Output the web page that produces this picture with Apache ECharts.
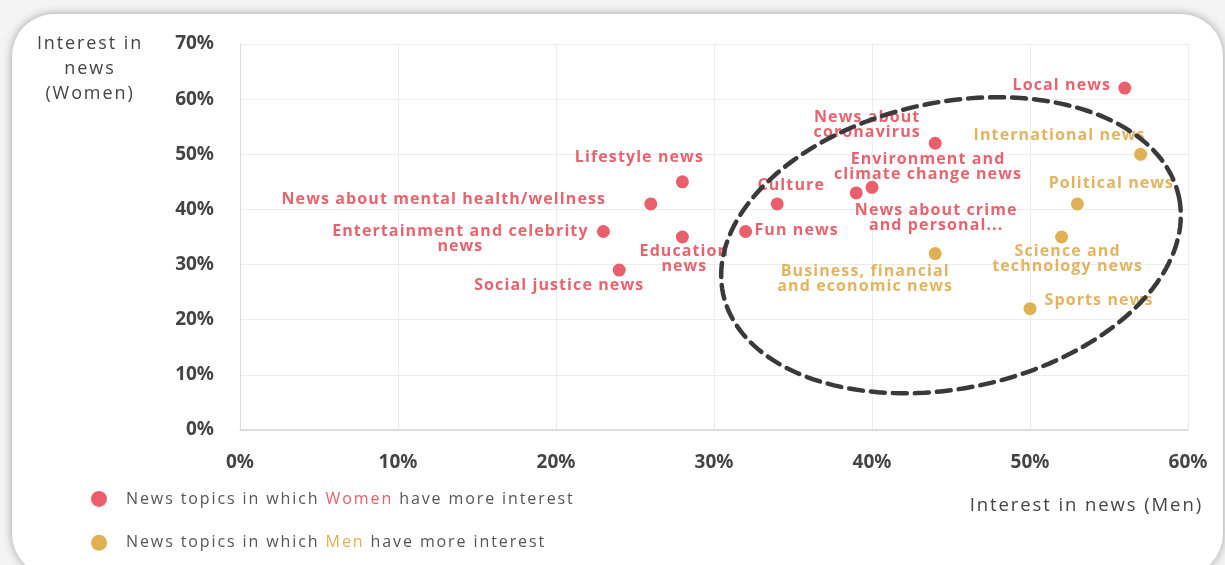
<!DOCTYPE html>
<html>
<head>
<meta charset="utf-8">
<script src="https://cdn.jsdelivr.net/npm/echarts@6/dist/echarts.min.js"></script>
<style>
  html, body { margin: 0; padding: 0; width: 1225px; height: 565px; overflow: hidden; background: #f4f4f4; }
  #card { position: absolute; left: 12px; top: 14px; width: 1211px; height: 562px; background: #fff;
          border-radius: 42px; box-shadow: 0 0 10px rgba(0,0,0,0.35); }
  #chart { position: absolute; left: 0; top: 0; width: 1225px; height: 565px; }
</style>
</head>
<body>
<div id="card"></div>
<div id="chart"></div>
<script>
// ---- Data (values in %) ----
const womenTopics = ['Local news', 'News about coronavirus', 'Lifestyle news', 'Environment and climate change news',
  'News about crime and personal...', 'Culture', 'News about mental health/wellness', 'Entertainment and celebrity news',
  'Education news', 'Fun news', 'Social justice news'];
const womenTopicsMen   = [56, 44, 28, 40, 39, 34, 26, 23, 28, 32, 24];
const womenTopicsWomen = [62, 52, 45, 44, 43, 41, 41, 36, 35, 36, 29];

const menTopics = ['International news', 'Political news', 'Science and technology news',
  'Business, financial and economic news', 'Sports news'];
const menTopicsMen   = [57, 53, 52, 44, 50];
const menTopicsWomen = [50, 41, 35, 32, 22];

const xTicks = [0, 10, 20, 30, 40, 50, 60];
const yTicks = [0, 10, 20, 30, 40, 50, 60, 70];

// ---- Label layout (line wraps and offsets from the dot, px) ----
const labelWrap = {
  'News about coronavirus': 'News about\ncoronavirus',
  'Environment and climate change news': 'Environment and\nclimate change news',
  'News about crime and personal...': 'News about crime\nand personal...',
  'Entertainment and celebrity news': 'Entertainment and celebrity\nnews',
  'Education news': 'Education\nnews',
  'Science and technology news': 'Science and\ntechnology news',
  'Business, financial and economic news': 'Business, financial\nand economic news'
};
const labelOffset = {
  'Local news': [-63, -3],
  'News about coronavirus': [-68, -18],
  'Lifestyle news': [-43, -24],
  'Environment and climate change news': [56, -20],
  'News about crime and personal...': [80, 25],
  'Culture': [14, -18],
  'News about mental health/wellness': [-207, -4],
  'Entertainment and celebrity news': [-143, 7],
  'Education news': [2, 22],
  'Fun news': [51, -1],
  'Social justice news': [-60, 15],
  'International news': [-81, -19],
  'Political news': [34, -20],
  'Science and technology news': [6, 22],
  'Business, financial and economic news': [-70, 25],
  'Sports news': [69, -8]
};

const PINK = '#e9606c', PINK_TXT = '#e6646f';
const GOLD = '#e0b055', GOLD_TXT = '#e3b460';

// Letter-spaced text for the "Open Sans" texts (measure + draw consistently)
function spacingFor(font) {
  if (!/Open Sans/.test(font || '')) return 0;
  return /bold|700/.test(font) ? 1.1 : 1.9;
}
const mctx = document.createElement('canvas').getContext('2d');
echarts.setPlatformAPI({
  measureText: function (text, font) {
    mctx.font = font || '12px sans-serif';
    mctx.letterSpacing = '0px';
    const w = mctx.measureText(text).width;
    return { width: w + spacingFor(font) * text.length };
  }
});
const origFill = CanvasRenderingContext2D.prototype.fillText;
CanvasRenderingContext2D.prototype.fillText = function (t, x, y, m) {
  this.letterSpacing = spacingFor(this.font) + 'px';
  return m === undefined ? origFill.call(this, t, x, y) : origFill.call(this, t, x, y, m);
};

function build(names, xs, ys, txtColor) {
  return names.map((n, i) => ({
    name: n,
    value: [xs[i], ys[i]],
    label: { offset: labelOffset[n] || [0, 0], color: txtColor }
  }));
}

const chart = echarts.init(document.getElementById('chart'), null, { renderer: 'canvas' });

const labelBase = {
  show: true,
  position: 'inside',
  formatter: p => labelWrap[p.name] || p.name,
  fontFamily: '"Open Sans"',
  fontWeight: 'bold',
  fontSize: 16,
  lineHeight: 15,
  align: 'center',
  verticalAlign: 'middle'
};
const tickFont = { color: '#444', fontWeight: 'bold', fontSize: 19, fontFamily: '"Noto Sans"' };

const titleY = { type: 'text', x: 90, y: 31, z: 10,
  style: { text: 'Interest in\nnews\n(Women)', fill: '#444', fontSize: 18, lineHeight: 25,
           align: 'center', verticalAlign: 'top', fontFamily: '"Open Sans"' } };
const titleX = { type: 'text', x: 1203, y: 495, z: 10,
  style: { text: 'Interest in news (Men)', fill: '#444', fontSize: 18.5, align: 'right', verticalAlign: 'top',
           fontFamily: '"Open Sans"' } };

const option = {
  backgroundColor: 'transparent',
  animation: false,
  grid: { left: 240, right: 37, top: 44, bottom: 135, containLabel: false },
  xAxis: {
    type: 'value', min: xTicks[0], max: xTicks[xTicks.length - 1], interval: 10,
    axisLine: { show: true, lineStyle: { color: '#d9d4cf', width: 1.5 } },
    axisTick: { show: false },
    splitLine: { show: true, lineStyle: { color: '#ececec' } },
    axisLabel: Object.assign({ formatter: '{value}%', margin: 23 }, tickFont)
  },
  yAxis: {
    type: 'value', min: yTicks[0], max: yTicks[yTicks.length - 1], interval: 10,
    axisLine: { show: true, lineStyle: { color: '#dcdcdc' } },
    axisTick: { show: false },
    splitLine: { show: true, lineStyle: { color: '#ececec' } },
    axisLabel: Object.assign({ formatter: '{value}%', margin: 26 }, tickFont)
  },
  legend: {
    orient: 'vertical', left: 86, top: 485, itemGap: 26,
    icon: 'circle', itemWidth: 16, itemHeight: 16,
    data: ['women', 'men'],
    formatter: n => n === 'women'
      ? 'News topics in which {w|Women} have more interest'
      : 'News topics in which {m|Men} have more interest',
    textStyle: {
      color: '#555', fontSize: 16, fontFamily: '"Open Sans"', padding: [0, 0, 0, 14],
      rich: {
        w: { color: PINK, fontSize: 16, fontFamily: '"Open Sans"' },
        m: { color: GOLD, fontSize: 16, fontFamily: '"Open Sans"' }
      }
    }
  },
  graphic: [titleY, titleX],
  series: [
    {
      name: 'women', type: 'scatter', symbolSize: 13,
      itemStyle: { color: PINK, opacity: 1 },
      label: labelBase,
      data: build(womenTopics, womenTopicsMen, womenTopicsWomen, PINK_TXT)
    },
    {
      name: 'men', type: 'scatter', symbolSize: 13,
      itemStyle: { color: GOLD, opacity: 1 },
      label: labelBase,
      data: build(menTopics, menTopicsMen, menTopicsWomen, GOLD_TXT)
    }
  ]
};
chart.setOption(option);

// Dashed ellipse highlighting the cluster (centre given in data coordinates)
const ellipseCenter = [45, 33.5];
const c = chart.convertToPixel({ gridIndex: 0 }, ellipseCenter);
const A = 233, B = 143, ROT = -12 * Math.PI / 180;
const pts = [];
for (let i = 0; i < 180; i++) {
  const t = i / 180 * Math.PI * 2;
  const ex = A * Math.cos(t), ey = B * Math.sin(t);
  pts.push([c[0] + ex * Math.cos(ROT) - ey * Math.sin(ROT), c[1] + ex * Math.sin(ROT) + ey * Math.cos(ROT)]);
}
chart.setOption({
  graphic: [
    titleY, titleX,
    { type: 'polygon', z: 100, shape: { points: pts },
      style: { fill: 'none', stroke: '#3a3a3a', lineWidth: 4.5, lineDash: [14, 8], lineCap: 'round' } }
  ]
});
</script>
</body>
</html>
